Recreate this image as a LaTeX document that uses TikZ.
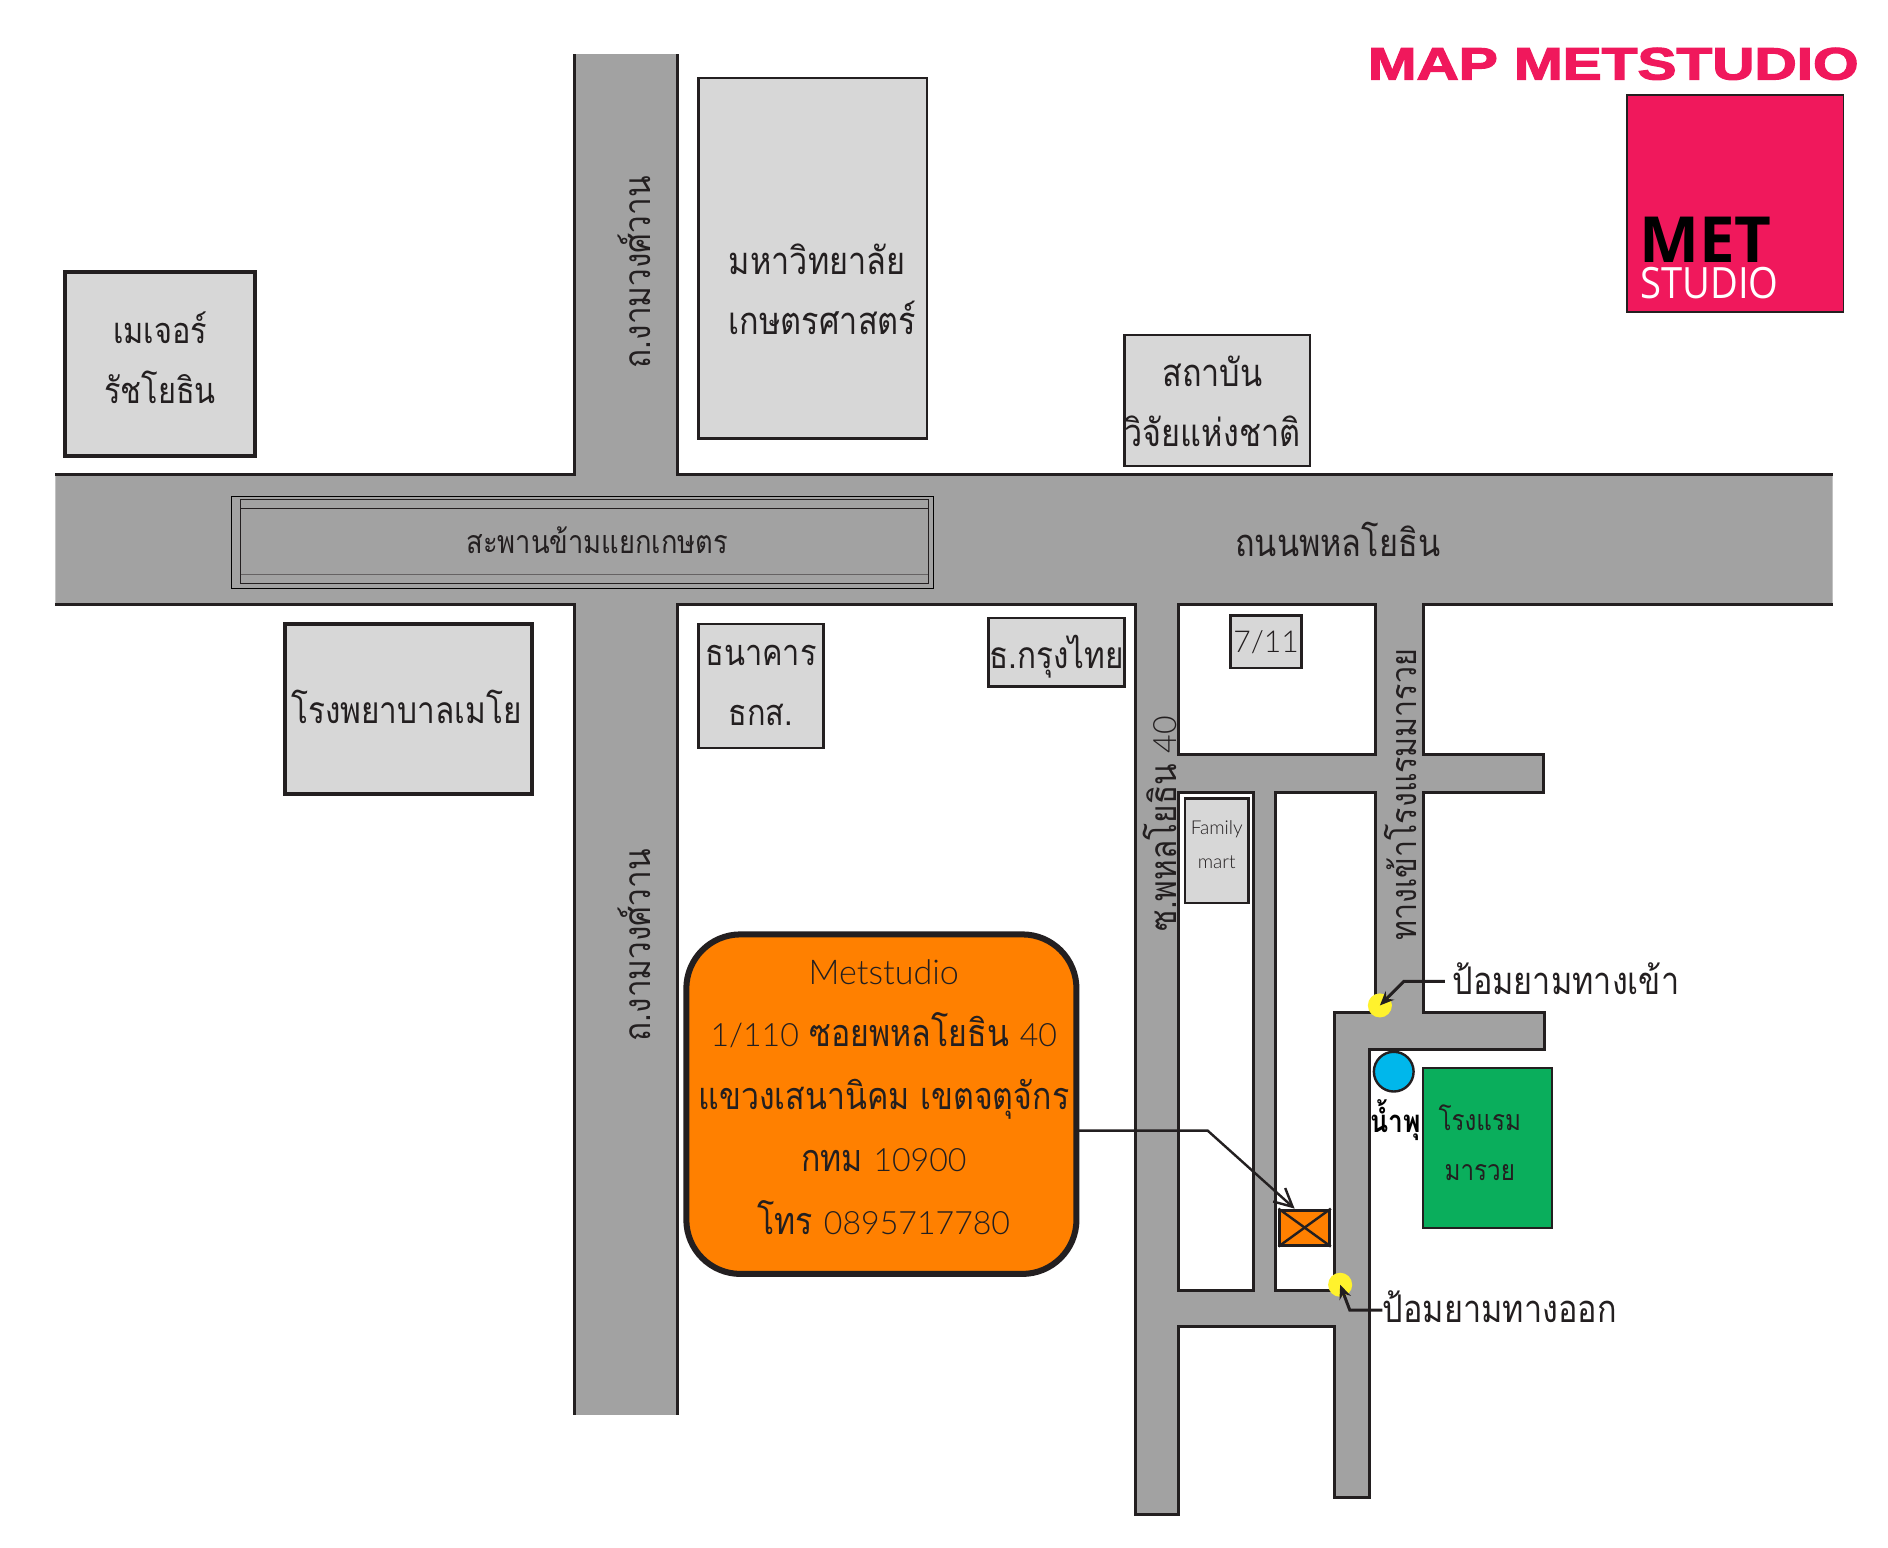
\documentclass[tikz,border=0pt]{standalone}
\usepackage{fontspec}
\usetikzlibrary{positioning,shapes,arrows.meta}
\setmainfont{Liberation Sans}
\newfontfamily\thaifont[Script=Thai,FakeStretch=0.85]{Loma}
\newfontfamily\latinfont[UprightFont=* Light]{Lato}
\newfontfamily\logofont{Open Sans}
\newfontfamily\titlefont[FakeBold=2.5]{Liberation Sans Bold}
\newcommand{\lat}[1]{{\latinfont\fontsize{16}{31.2}\selectfont #1}}
\definecolor{roadgrey}{HTML}{A2A2A2}
\definecolor{blockgrey}{HTML}{D7D7D7}
\definecolor{inkline}{HTML}{231F20}
\definecolor{metpink}{HTML}{F0185C}
\definecolor{metorange}{HTML}{FF8000}
\definecolor{hotelgreen}{HTML}{0AAE5C}
\definecolor{guardyellow}{HTML}{FFF22D}
\definecolor{fountainblue}{HTML}{00B7EB}
\begin{document}
\begin{tikzpicture}[
	x=0.6pt,y=-0.6pt,
	roadline/.style={draw=inkline,line width=1.5pt},
	maptext/.style={text=inkline,inner sep=0pt,align=center,font=\thaifont\fontsize{19}{30}\selectfont},
	smalltext/.style={maptext,font=\thaifont\fontsize{16}{25}\selectfont},
	roadtext/.style={maptext,font=\thaifont\fontsize{18.5}{20}\selectfont,rotate=90},
	building/.style={maptext,draw=inkline,fill=blockgrey,line width=1.2pt},
	thickbuilding/.style={building,line width=2pt},
	guardpost/.style={circle,fill=guardyellow,minimum size=12pt,inner sep=0pt},
	leader/.style={draw=inkline,line width=1.5pt,-{Stealth[length=7pt,width=6pt]}}
	]
	\useasboundingbox (0,0) rectangle (1568,1285.6);
	\fill[roadgrey] (46,394) -- (477,394) -- (477,45) -- (563,45) -- (563,394) -- (1522,394) -- (1522,502) -- (1182,502) -- (1182,627) -- (1282,627) -- (1282,658) -- (1182,658) -- (1182,841) -- (1283,841) -- (1283,872) -- (1137,872) -- (1137,1244) -- (1108,1244) -- (1108,1102) -- (979,1102) -- (979,1258) -- (943,1258) -- (943,502) -- (563,502) -- (563,1175) -- (477,1175) -- (477,502) -- (46,502) -- cycle;
	\draw[roadline] (46,394) -- (477,394) -- (477,45);
	\draw[roadline] (563,45) -- (563,394) -- (1522,394);
	\draw[roadline] (46,502) -- (477,502) -- (477,1175);
	\draw[roadline] (563,1175) -- (563,502) -- (943,502) -- (943,1258) -- (979,1258) -- (979,1102) -- (1108,1102) -- (1108,1244) -- (1137,1244) -- (1137,872) -- (1283,872) -- (1283,841) -- (1182,841) -- (1182,658) -- (1282,658) -- (1282,627) -- (1182,627) -- (1182,502) -- (1522,502);
	\draw[roadline,fill=white] (979,502) -- (1142,502) -- (1142,627) -- (979,627) -- cycle;
	\draw[roadline,fill=white] (979,658) -- (1041,658) -- (1041,1072) -- (979,1072) -- cycle;
	\draw[roadline,fill=white] (1059,658) -- (1142,658) -- (1142,841) -- (1108,841) -- (1108,1072) -- (1059,1072) -- cycle;
	\fill[roadgrey] (1110,843) rectangle (1140,870);
	\draw[draw=black,line width=0.5pt] (192,412) rectangle (775,489);
	\draw[draw=inkline,line width=0.5pt] (200,415) rectangle (771,485);
	\draw[draw=inkline,line width=0.5pt] (200,422) -- (771,422);
	\draw[draw=inkline!70,line width=0.8pt] (200,477) -- (771,477);
	\node[smalltext] (bridge) at (496,449) {สะพานข้ามแยกเกษตร};
	\node[maptext] (mainroad) at (1111,448) {ถนนพหลโยธิน};
	\node[roadtext] (ngamnorth) at (527,226) {ถ.งามวงศ์วาน};
	\node[roadtext] (ngamsouth) at (527,785) {ถ.งามวงศ์วาน};
	\node[roadtext] (soiforty) at (963,684) {ซ.พหลโยธิน \lat{40}};
	\node[roadtext,font=\thaifont\fontsize{17.8}{20}\selectfont] (hotelroad) at (1163,660) {ทางเข้าโรงแรมมารวย};
	\node[thickbuilding,minimum width=94.8pt,minimum height=91.8pt,font=\thaifont\fontsize{18}{30}\selectfont,text depth=6.5pt] (major) at (133,302.5) {เมเจอร์\\รัชโยธิน};
	\node[building,minimum width=114pt,minimum height=179.4pt] (kasetsart) at (675,214.5) {};
	\node[maptext,align=left,anchor=west] (kasetsartlabel) at (605,240.5) {มหาวิทยาลัย\\เกษตรศาสตร์};
	\node[building,minimum width=92.4pt,minimum height=65.4pt] (institute) at (1011,332.5) {};
	\node[maptext] (institutelabel) at (1007,333) {สถาบัน\\วิจัยแห่งชาติ};
	\node[thickbuilding,minimum width=123pt,minimum height=84.6pt] (hospital) at (339.5,588.5) {};
	\node[maptext,font=\thaifont\fontsize{18.5}{30}\selectfont] (hospitallabel) at (337.5,587) {โรงพยาบาลเมโย};
	\node[building,minimum width=62.4pt,minimum height=61.8pt,font=\thaifont\fontsize{18}{30}\selectfont,text depth=0pt] (bank) at (632,569.5) {ธนาคาร\\ธกส.};
	\node[building,minimum width=67.8pt,minimum height=34.2pt,font=\thaifont\fontsize{18.5}{30}\selectfont,text depth=0pt] (krungthai) at (877.5,541.5) {ธ.กรุงไทย};
	\node[building,minimum width=35.4pt,minimum height=26.4pt,font=\latinfont\fontsize{15}{20}\selectfont] (seven) at (1051.5,533) {7/11};
	\node[building,minimum width=31.8pt,minimum height=52.2pt,font=\latinfont\fontsize{9.5}{17}\selectfont,text depth=6pt] (family) at (1010.5,706.5) {Family\\mart};
	\node[building,fill=hotelgreen,minimum width=64.2pt,minimum height=79.8pt] (hotel) at (1235.5,953.5) {};
	\node[maptext,font=\thaifont\fontsize{14.2}{25}\selectfont] (hotellabel) at (1229,949) {โรงแรม\\มารวย};
	\node[circle,draw=inkline,fill=fountainblue,line width=1.2pt,minimum size=19.8pt,inner sep=0pt] (fountain) at (1157.5,890) {};
	\node[text=black,inner sep=0pt,font=\thaifont\bfseries\fontsize{15.5}{15}\selectfont] (fountainlabel) at (1159,930) {น้ำพุ};
	\node[guardpost] (entrypost) at (1146,835) {};
	\node[guardpost] (exitpost) at (1113,1067) {};
	\node[maptext,anchor=west] (entrylabel) at (1206,813) {ป้อมยามทางเข้า};
	\node[maptext,anchor=west] (exitlabel) at (1148,1085) {ป้อมยามทางออก};
	\coordinate (entryelbow) at (1166,815);
	\coordinate (exitelbow) at (1121,1088);
	\draw[leader] (entrylabel.west |- entryelbow) ++(-6,0) -- (entryelbow) -- (entrypost.center);
	\draw[leader] (exitlabel.west |- exitelbow) -- (exitelbow) -- (exitpost.center);
	\node[draw=inkline,fill=metorange,line width=1.5pt,minimum width=24.6pt,minimum height=17.4pt,inner sep=0pt] (site) at (1083.5,1019.5) {};
	\draw[draw=inkline,line width=1.2pt] (site.north west) -- (site.south east);
	\draw[draw=inkline,line width=1.2pt] (site.north east) -- (site.south west);
	\node[draw=inkline,fill=metorange,line width=3pt,rounded corners=27pt,minimum width=194.4pt,minimum height=169.2pt] (office) at (732,917) {};
	\node[maptext,font=\thaifont\fontsize{18.8}{31.2}\selectfont] (officelabel) at (734,911) {{\latinfont\fontsize{17}{31.2}\selectfont Metstudio}\\\lat{1/110} ซอยพหลโยธิน \lat{40}\\แขวงเสนานิคม เขตจตุจักร\\กทม \lat{10900}\\โทร \lat{0895717780}};
	\coordinate (elbow) at (1003,939);
	\draw[draw=inkline,line width=1.2pt,-{Straight Barb[length=9pt,width=9pt]}] ([xshift=-2pt]office.east |- elbow) -- (elbow) -- ([xshift=-5pt]site.north);
	\node[fill=metpink,draw=inkline,line width=0.8pt,minimum size=108pt,inner sep=0pt] (logo) at (1441,169) {};
	\node[anchor=base west,inner sep=0pt,text=black,font=\logofont\bfseries\fontsize{31.7}{32}\selectfont] (logomet) at (1361,218) {MET};
	\node[anchor=base west,inner sep=0pt,text=white,transform shape,xscale=0.885,font=\logofont\fontsize{21.5}{22}\selectfont] (logostudio) at (1362,248) {STUDIO};
	\node[anchor=base east,inner sep=0pt,text=metpink,transform shape,xscale=1.29,font=\titlefont\fontsize{22.6}{23}\selectfont] (title) at (1544,66) {MAP METSTUDIO};
\end{tikzpicture}
\end{document}
